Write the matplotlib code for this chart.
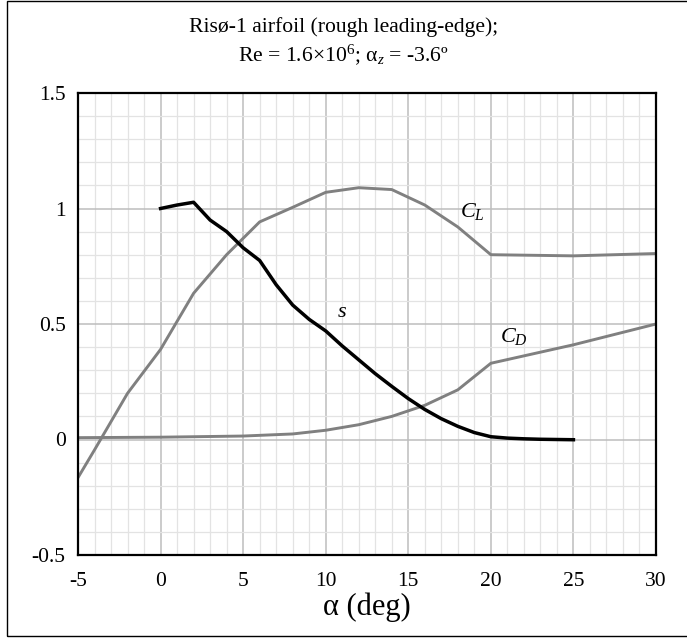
import matplotlib
matplotlib.use("Agg")
import matplotlib.pyplot as plt
from matplotlib.patches import Rectangle
from matplotlib.ticker import MultipleLocator

# Data
alpha_cl = [-5, -4, -2, 0, 2, 4, 6, 8, 10, 12, 14, 16, 18, 20, 25, 30]
cl = [-0.165, -0.045, 0.20, 0.39, 0.633, 0.80, 0.942, 1.005, 1.07, 1.09, 1.082, 1.015, 0.92, 0.80, 0.795, 0.805]

alpha_cd = [-5, 0, 5, 8, 10, 12, 14, 16, 18, 20, 25, 30]
cd = [0.008, 0.01, 0.015, 0.024, 0.04, 0.064, 0.10, 0.148, 0.215, 0.33, 0.41, 0.50]

alpha_s = [0, 1, 2, 3, 4, 5, 6, 7, 8, 9, 10, 11, 12, 13, 14, 15, 16, 17, 18, 19, 20, 21, 22, 23, 24, 25]
s = [1.0, 1.015, 1.027, 0.95, 0.90, 0.83, 0.775, 0.67, 0.582, 0.52, 0.47, 0.405, 0.345, 0.285,
     0.23, 0.177, 0.13, 0.09, 0.057, 0.03, 0.012, 0.006, 0.003, 0.001, 0.0, -0.001]

xticks = [-5, 0, 5, 10, 15, 20, 25, 30]
xticklabels = ["-5", "0", "5", "10", "15", "20", "25", "30"]
yticks = [-0.5, 0, 0.5, 1, 1.5]
yticklabels = ["-0.5", "0", "0.5", "1", "1.5"]

plt.rcParams['font.family'] = ['Liberation Serif', 'DejaVu Serif']
plt.rcParams['mathtext.fontset'] = 'custom'
plt.rcParams['mathtext.rm'] = 'Liberation Serif'
plt.rcParams['mathtext.it'] = 'Liberation Serif:italic'
plt.rcParams['axes.unicode_minus'] = False

fig = plt.figure(figsize=(6.87, 6.39), dpi=100)
ax = fig.add_axes([78/687, 1-555/639, (656-78)/687, (555-93)/639])

ax.set_xlim(-5, 30)
ax.set_ylim(-0.5, 1.5)
ax.xaxis.set_minor_locator(MultipleLocator(1))
ax.yaxis.set_minor_locator(MultipleLocator(0.1))
ax.set_xticks(xticks)
ax.set_xticklabels(xticklabels)
ax.set_yticks(yticks)
ax.set_yticklabels(yticklabels)
ax.grid(which='minor', color='#e3e3e3', linewidth=0.9)
ax.grid(which='major', color='#bdbdbd', linewidth=1.1)
ax.set_axisbelow(True)
ax.tick_params(which='both', length=0, labelsize=15.5)
ax.tick_params(axis='x', pad=12.5)
ax.tick_params(axis='y', pad=9)
for sp in ax.spines.values():
    sp.set_linewidth(1.6)
    sp.set_color('black')

ax.plot(alpha_cl, cl, color='#808080', lw=2.1, solid_joinstyle='round')
ax.plot(alpha_cd, cd, color='#808080', lw=2.1, solid_joinstyle='round')
ax.plot(alpha_s, s, color='black', lw=2.5, solid_joinstyle='round')

ax.text(18.86, 0.985, r"$C_L$", fontsize=16, ha='center', va='center')
ax.text(21.4, 0.448, r"$C_D$", fontsize=16, ha='center', va='center')
ax.text(10.97, 0.55, r"$s$", fontsize=16, ha='center', va='center')

ax.text(0.5, 1-607/639, "α (deg)", transform=matplotlib.transforms.blended_transform_factory(ax.transAxes, fig.transFigure),
        ha='center', va='center', fontsize=22)

fig.text(0.5, 1-27/639, "Risø-1 airfoil (rough leading-edge);", ha='center', va='center', fontsize=15.6)
fig.text(0.5, 1-55/639, r"Re = 1.6×10$^{6}$; $\mathrm{α}_{z}$ = -3.6º", ha='center', va='center', fontsize=15.6)

fig.patches.append(Rectangle((7/687, 1-636/639), 1.0, (636-1)/639, transform=fig.transFigure,
                             fill=False, edgecolor='black', linewidth=1.0))

fig.savefig("out.png", dpi=100)
